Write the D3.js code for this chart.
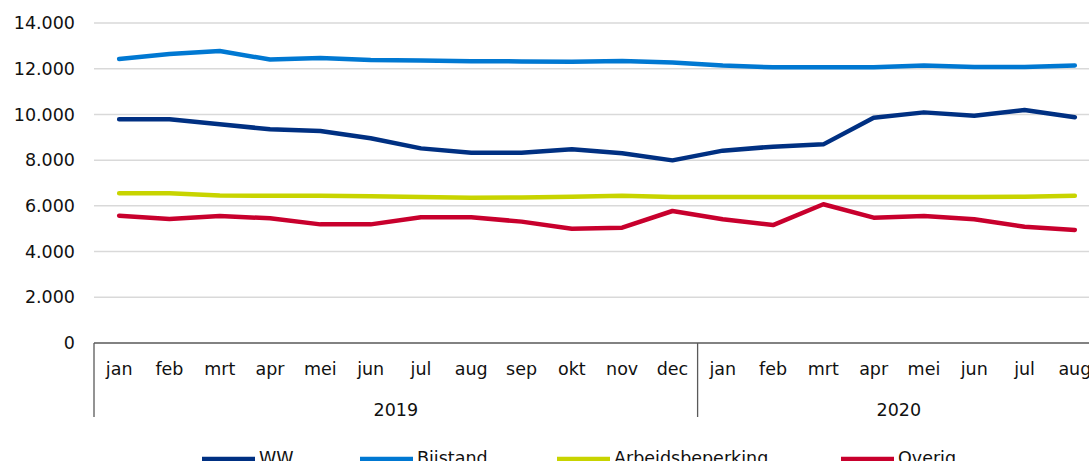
<!DOCTYPE html>
<html>
<head>
<meta charset="utf-8">
<script src="https://cdn.jsdelivr.net/npm/d3@7"></script>
<style>
  html, body { margin: 0; padding: 0; background: #fff; overflow: hidden; }
  svg { display: block; font-family: "DejaVu Sans", Verdana, sans-serif; }
</style>
</head>
<body>
<svg id="chart" width="1089" height="461"></svg>
<script>
// ---- data ----
const months = ["jan","feb","mrt","apr","mei","jun","jul","aug","sep","okt","nov","dec",
                "jan","feb","mrt","apr","mei","jun","jul","aug"];
const years = ["2019","2020"];
const monthsPerYear = [12, 8];
const yTicks = [0, 2000, 4000, 6000, 8000, 10000, 12000, 14000];

const ww = [9785, 9785, 9570, 9350, 9275, 8960, 8515, 8325, 8325, 8475, 8300, 7990,
            8415, 8590, 8690, 9855, 10090, 9945, 10195, 9875];
const bijstand = [12425, 12640, 12775, 12400, 12470, 12380, 12360, 12330, 12320, 12300, 12340, 12270,
                  12140, 12060, 12060, 12060, 12140, 12070, 12070, 12140];
const arbeid = [6550, 6550, 6450, 6445, 6445, 6420, 6390, 6350, 6370, 6400, 6440, 6390,
                6390, 6390, 6390, 6390, 6390, 6390, 6400, 6445];
const overig = [5570, 5425, 5555, 5455, 5190, 5190, 5500, 5500, 5310, 5000, 5045, 5775,
                5410, 5160, 6070, 5485, 5555, 5410, 5090, 4945];

const seriesNames = ["WW", "Bijstand", "Arbeidsbeperking", "Overig"];
const seriesColors = ["#003082", "#0078d2", "#c8d400", "#c8002d"];
const seriesValues = [ww, bijstand, arbeid, overig];

// ---- layout ----
const svg = d3.select("#chart");
const plotL = 94, plotR = 1100, plotT = 23, plotB = 343;
const keys = months.map((m, i) => i);
const textColor = "#111";
const fs = 17.5;

const x = d3.scaleBand().domain(keys).range([plotL, plotR]);
const y = d3.scaleLinear().domain([0, 14000]).range([plotB, plotT]);

const nl = d3.formatLocale({decimal: ",", thousands: ".", grouping: [3], currency: ["€", ""]});
const fmt = nl.format(",d");

// gridlines
svg.append("g")
  .selectAll("line")
  .data(yTicks.filter(d => d > 0))
  .join("line")
  .attr("x1", plotL).attr("x2", plotR)
  .attr("y1", d => y(d)).attr("y2", d => y(d))
  .attr("stroke", "#d9d9d9").attr("stroke-width", 1.5);

// y axis
const yAxis = svg.append("g")
  .attr("transform", `translate(${plotL},0)`)
  .call(d3.axisLeft(y).tickValues(yTicks).tickFormat(fmt).tickSize(0).tickPadding(19));
yAxis.select(".domain").remove();
yAxis.selectAll("text").attr("font-size", fs).attr("fill", textColor)
  .attr("font-family", "DejaVu Sans, Verdana, sans-serif");

// x axis (months)
const xAxis = svg.append("g")
  .attr("transform", `translate(0,${plotB})`)
  .call(d3.axisBottom(x).tickFormat(i => months[i]).tickSize(0).tickPadding(19.5));
xAxis.select(".domain").remove();
xAxis.selectAll("text").attr("font-size", fs).attr("fill", textColor)
  .attr("font-family", "DejaVu Sans, Verdana, sans-serif");

// axis frame lines
const frame = svg.append("g").attr("stroke", "#595959").attr("stroke-width", 1.3);
frame.append("line").attr("x1", plotL).attr("x2", plotR).attr("y1", plotB).attr("y2", plotB);
let start = 0;
const bounds = [0];
monthsPerYear.forEach(n => { start += n; bounds.push(start); });
bounds.forEach(b => {
  const xp = b < keys.length ? x(b) : plotR;
  frame.append("line").attr("x1", xp).attr("x2", xp).attr("y1", plotB).attr("y2", 417);
});

// year labels
svg.append("g").selectAll("text")
  .data(years)
  .join("text")
  .attr("x", (d, i) => {
    const a = x(bounds[i]);
    const b = bounds[i + 1] < keys.length ? x(bounds[i + 1]) : plotR;
    return (a + b) / 2;
  })
  .attr("y", 416)
  .attr("text-anchor", "middle")
  .attr("font-size", fs).attr("fill", textColor)
  .text(d => d);

// lines
const line = d3.line()
  .x((d, i) => x(i) + x.bandwidth() / 2)
  .y(d => y(d));

svg.append("g").selectAll("path")
  .data(seriesValues)
  .join("path")
  .attr("d", d => line(d))
  .attr("fill", "none")
  .attr("stroke", (d, i) => seriesColors[i])
  .attr("stroke-width", 4.5)
  .attr("stroke-linejoin", "round")
  .attr("stroke-linecap", "round");

// legend
const legendX = [202, 360, 557, 841];
const lg = svg.append("g").selectAll("g")
  .data(seriesNames)
  .join("g")
  .attr("transform", (d, i) => `translate(${legendX[i]},459)`);
lg.append("line").attr("x1", 0).attr("x2", 53).attr("y1", 0).attr("y2", 0)
  .attr("stroke", (d, i) => seriesColors[i]).attr("stroke-width", 4.5);
lg.append("text").attr("x", 57).attr("y", 5)
  .attr("font-size", fs).attr("fill", textColor)
  .text(d => d);
</script>
</body>
</html>
